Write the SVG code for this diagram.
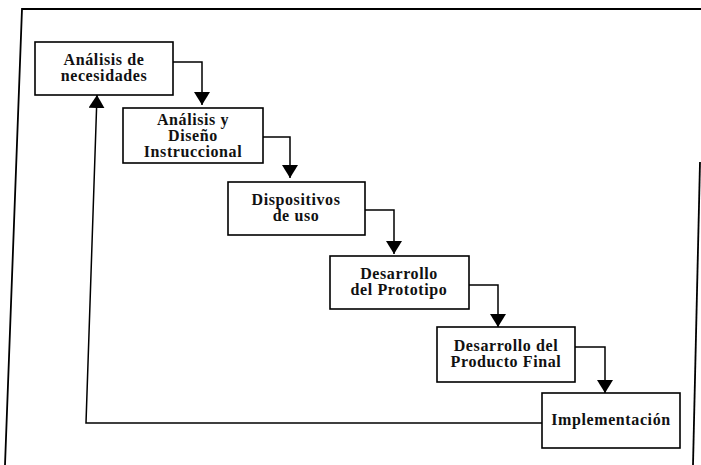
<svg xmlns="http://www.w3.org/2000/svg" width="701" height="465" viewBox="0 0 701 465">
<style>
.box{fill:#fff;stroke:#000;stroke-width:1.6}
.t{font-family:"Liberation Serif","Times New Roman",serif;font-size:16px;font-weight:bold;text-anchor:middle;fill:#111;letter-spacing:0.6px}
.c{fill:none;stroke:#000;stroke-width:1.5}
.frame{fill:none;stroke:#000;stroke-width:1.8}
</style>
<defs>
<marker id="ahb" viewBox="0 0 13 16" refX="13" refY="8" markerWidth="13" markerHeight="16" markerUnits="userSpaceOnUse" orient="auto">
<path d="M0,0 L13,8 L0,16 z" fill="#000"/>
</marker>
</defs>
<g id="frame">
<path class="frame" d="M5,465 L22,9 L701,9"/>
<path class="frame" d="M700,162 L693,465"/>
</g>
<g id="connectors">
<path class="c" d="M173,62 L202,62 L202,105" marker-end="url(#ahb)"/>
<path class="c" d="M263,137 L290,137 L290,178" marker-end="url(#ahb)"/>
<path class="c" d="M365,210 L394,210 L394,254" marker-end="url(#ahb)"/>
<path class="c" d="M469,285 L498,285 L498,327" marker-end="url(#ahb)"/>
<path class="c" d="M575,347 L605,347 L605,393" marker-end="url(#ahb)"/>
<path class="c" d="M542,423 L86,423 L97,95" marker-end="url(#ahb)"/>
</g>
<g id="n1">
<rect class="box" x="35" y="42" width="138" height="53"/>
<text class="t" x="104" y="65">Análisis de</text>
<text class="t" x="104" y="81">necesidades</text>
</g>
<g id="n2">
<rect class="box" x="123" y="108" width="140" height="55"/>
<text class="t" x="193" y="125">Análisis y</text>
<text class="t" x="193" y="141">Diseño</text>
<text class="t" x="193" y="157">Instruccional</text>
</g>
<g id="n3">
<rect class="box" x="228" y="182" width="137" height="53"/>
<text class="t" x="296" y="205">Dispositivos</text>
<text class="t" x="296" y="221">de uso</text>
</g>
<g id="n4">
<rect class="box" x="330" y="256" width="139" height="53"/>
<text class="t" x="399" y="279">Desarrollo</text>
<text class="t" x="399" y="295">del Prototipo</text>
</g>
<g id="n5">
<rect class="box" x="437" y="327" width="138" height="55"/>
<text class="t" x="506" y="351">Desarrollo del</text>
<text class="t" x="506" y="367">Producto Final</text>
</g>
<g id="n6">
<rect class="box" x="542" y="393" width="138" height="55"/>
<text class="t" x="611" y="425">Implementación</text>
</g>
</svg>
